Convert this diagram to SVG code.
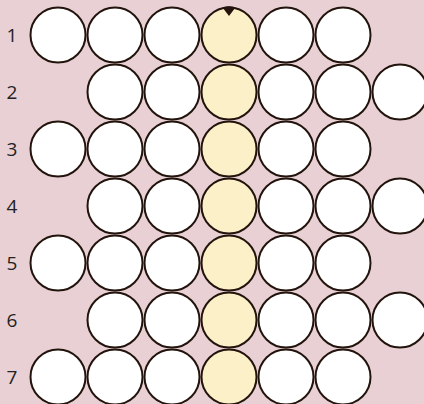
<svg xmlns="http://www.w3.org/2000/svg" width="424" height="404" viewBox="0 0 424 404">
<style>
.c{fill:#ffffff;stroke:#22140c;stroke-width:2}
.h{fill:#fbf0c8;stroke:#22140c;stroke-width:2}
.l{font-family:"Open Sans","DejaVu Sans",sans-serif;font-size:19px;fill:#222;text-anchor:middle}
</style>
<defs>
<circle id="w" r="27.5" class="c"/>
<circle id="y" r="27.5" class="h"/>
</defs>
<rect width="424" height="404" fill="#e8d0d4"/>
<g id="labels">
<text class="l" x="12" y="41.5">1</text>
<text class="l" x="12" y="98.5">2</text>
<text class="l" x="12" y="155.5">3</text>
<text class="l" x="12" y="212.5">4</text>
<text class="l" x="12" y="269.5">5</text>
<text class="l" x="12" y="326.5">6</text>
<text class="l" x="12" y="383.5">7</text>
</g>
<g id="row1">
<use href="#w" x="58" y="35"/><use href="#w" x="115" y="35"/><use href="#w" x="172" y="35"/><use href="#y" x="229" y="35"/><use href="#w" x="286" y="35"/><use href="#w" x="343" y="35"/>
</g>
<g id="row2">
<use href="#w" x="115" y="92"/><use href="#w" x="172" y="92"/><use href="#y" x="229" y="92"/><use href="#w" x="286" y="92"/><use href="#w" x="343" y="92"/><use href="#w" x="400" y="92"/>
</g>
<g id="row3">
<use href="#w" x="58" y="149"/><use href="#w" x="115" y="149"/><use href="#w" x="172" y="149"/><use href="#y" x="229" y="149"/><use href="#w" x="286" y="149"/><use href="#w" x="343" y="149"/>
</g>
<g id="row4">
<use href="#w" x="115" y="206"/><use href="#w" x="172" y="206"/><use href="#y" x="229" y="206"/><use href="#w" x="286" y="206"/><use href="#w" x="343" y="206"/><use href="#w" x="400" y="206"/>
</g>
<g id="row5">
<use href="#w" x="58" y="263"/><use href="#w" x="115" y="263"/><use href="#w" x="172" y="263"/><use href="#y" x="229" y="263"/><use href="#w" x="286" y="263"/><use href="#w" x="343" y="263"/>
</g>
<g id="row6">
<use href="#w" x="115" y="320"/><use href="#w" x="172" y="320"/><use href="#y" x="229" y="320"/><use href="#w" x="286" y="320"/><use href="#w" x="343" y="320"/><use href="#w" x="400" y="320"/>
</g>
<g id="row7">
<use href="#w" x="58" y="377"/><use href="#w" x="115" y="377"/><use href="#w" x="172" y="377"/><use href="#y" x="229" y="377"/><use href="#w" x="286" y="377"/><use href="#w" x="343" y="377"/>
</g>
<g id="marker">
<path d="M222.5,7.5 Q229,5 235.5,7.5 L229,16 Z" fill="#22140c"/>
</g>
</svg>
